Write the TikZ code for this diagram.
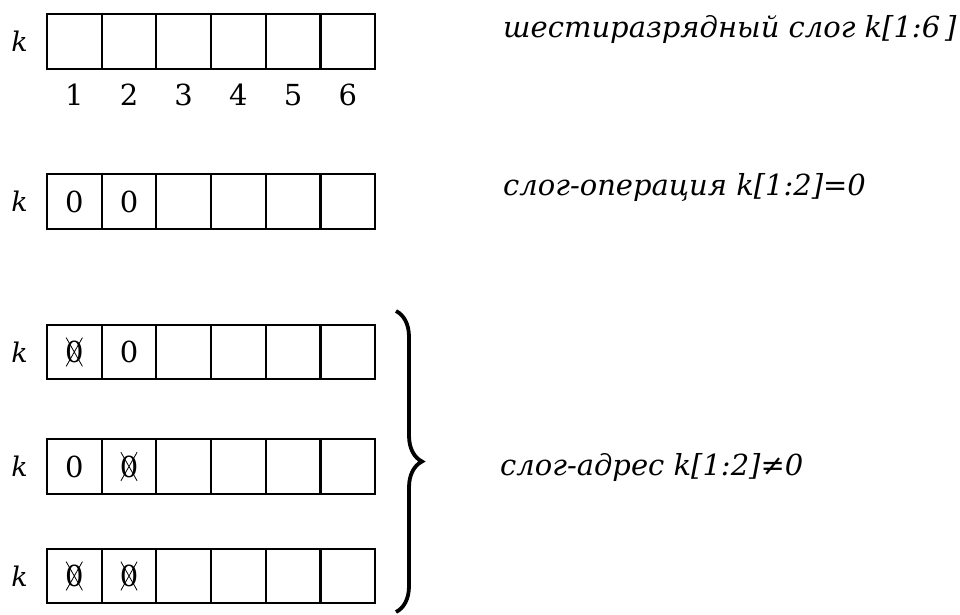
\documentclass[tikz,border=0pt]{standalone}
\usepackage{fontspec}
\setmainfont{DejaVu Serif}
\usetikzlibrary{positioning, shapes.misc, decorations.pathreplacing}

\begin{document}
\begin{tikzpicture}[x=1pt, y=-1pt,
    cellnode/.style={rectangle, draw=black, line width=2.2pt, minimum size=54.7pt, inner sep=0pt, outer sep=0pt},
    zeronode/.style={font=\fontsize{29}{30}\selectfont, inner sep=0pt},
    crossnode/.style={cross out, draw=black, line width=0.8pt, font=\fontsize{29}{30}\selectfont, inner xsep=-1.5pt, inner ysep=3pt},
    digitnode/.style={font=\fontsize{29}{30}\selectfont, inner sep=0pt},
    labelnode/.style={font=\itshape\fontsize{27}{30}\selectfont, inner sep=0pt},
    textnode/.style={font=\itshape\fontsize{29}{30}\selectfont, inner sep=0pt, anchor=base west},
    ]
    \useasboundingbox (0,0) rectangle (960,614);

    %Nodes
    \foreach \r/\y in {1/41.5, 2/201.5, 3/352, 4/466.5, 5/576}{
      \node[cellnode] (r\r c1) at (74.3,\y) {};
      \foreach \c [count=\p from 1] in {2,...,6}
        \node[cellnode, right=0pt of r\r c\p] (r\r c\c) {};
      \node[labelnode, left=19pt of r\r c1] (k\r) {k};
    }
    \foreach \c in {1,...,6}
      \node[digitnode, below=15pt of r1c\c] (d\c) {\c};

    \node[zeronode] (z2a) at (r2c1) {0};
    \node[zeronode] (z2b) at (r2c2) {0};
    \node[crossnode] (z3a) at (r3c1) {0};
    \node[zeronode] (z3b) at (r3c2) {0};
    \node[zeronode] (z4a) at (r4c1) {0};
    \node[crossnode] (z4b) at (r4c2) {0};
    \node[crossnode] (z5a) at (r5c1) {0};
    \node[crossnode] (z5b) at (r5c2) {0};

    \node[textnode] (t1) at (503,37) {шестиразрядный слог k[1:6\,]};
    \node[textnode] (t2) at (503,195) {слог-операция k[1:2]=0};
    \node[textnode] (t3) at (500,475) {слог-адрес k[1:2]≠0};

    %Lines
    \coordinate (bracetop) at (396,311);
    \coordinate (bracebot) at (396,612);
    \draw[line width=3.8pt, decorate, decoration={brace, amplitude=26pt}] (bracetop) -- (bracebot);
  \end{tikzpicture}
\end{document}
